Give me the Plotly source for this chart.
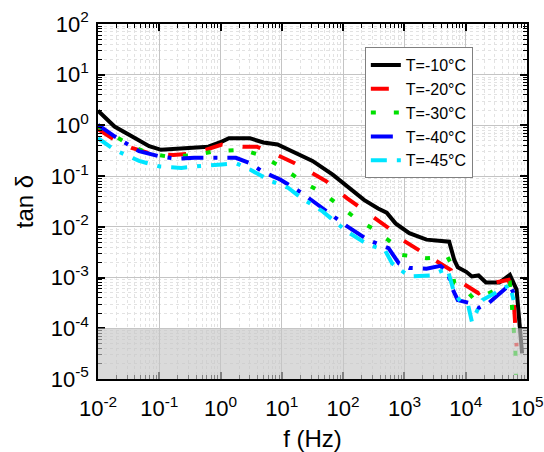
import plotly.graph_objects as go

# T = -10 °C
f_10 = [0.01, 0.0186, 0.0355, 0.0684, 0.107, 0.17, 0.324, 0.63, 1.05, 1.37, 3.0, 5.0, 8.5, 16.2, 31.6, 67.6, 115, 219, 372, 513, 716, 1200, 2290, 5370, 6530, 7410, 10200, 12600, 16200, 21400, 35500, 52500, 67600, 77600, 83200]
t_10 = [1.95, 0.95, 0.61, 0.39, 0.33, 0.34, 0.36, 0.38, 0.48, 0.56, 0.56, 0.46, 0.42, 0.285, 0.20, 0.107, 0.063, 0.034, 0.023, 0.019, 0.0117, 0.0075, 0.0056, 0.0051, 0.0022, 0.0016, 0.0013, 0.00105, 0.0011, 0.0008, 0.0008, 0.00113, 0.00058, 0.000108, 0.000032]

# T = -20 °C
f_20 = [0.01, 0.0186, 0.0355, 0.0684, 0.17, 0.372, 1.05, 2.29, 3.89, 8.5, 16.2, 52.5, 115, 251, 550, 912, 2290, 4370, 5750, 6530, 9550, 16200, 27500, 50100, 60300, 67600]
t_20 = [0.85, 0.52, 0.36, 0.285, 0.26, 0.28, 0.42, 0.38, 0.38, 0.26, 0.18, 0.08, 0.037, 0.019, 0.0095, 0.0056, 0.0028, 0.0018, 0.0014, 0.00098, 0.00072, 0.00049, 0.00078, 0.0009, 0.0004, 0.000044]

# T = -30 °C
f_30 = [0.01, 0.0145, 0.0355, 0.0684, 0.132, 0.372, 0.813, 2.29, 4.37, 9.55, 24.0, 46.8, 77.6, 170, 331, 631, 912, 2290, 5010, 5750, 6530, 9550, 14100, 24000, 52500, 56200, 60300, 64600, 66100]
t_30 = [0.95, 0.75, 0.39, 0.28, 0.245, 0.26, 0.31, 0.33, 0.26, 0.155, 0.072, 0.047, 0.029, 0.014, 0.0087, 0.0048, 0.0028, 0.0024, 0.0026, 0.0019, 0.00078, 0.00061, 0.00036, 0.00049, 0.00078, 0.00032, 0.000108, 0.000037, 0.000012]

# T = -40 °C
f_40 = [0.01, 0.0186, 0.0468, 0.102, 0.2, 0.372, 1.05, 1.78, 3.02, 5.01, 9.55, 20.9, 46.8, 115, 251, 550, 813, 1200, 2290, 3890, 5010, 6170, 7410, 11000, 16200, 24000, 52500, 60300]
t_40 = [1.03, 0.61, 0.31, 0.245, 0.22, 0.23, 0.23, 0.23, 0.18, 0.12, 0.085, 0.047, 0.023, 0.0103, 0.0056, 0.0038, 0.0019, 0.00155, 0.0015, 0.0017, 0.0013, 0.00058, 0.00036, 0.00032, 0.00025, 0.00032, 0.00072, 0.00049]

# T = -45 °C
f_45 = [0.01, 0.0186, 0.0468, 0.102, 0.229, 0.372, 1.05, 1.78, 3.02, 6.61, 12.6, 20.9, 46.8, 115, 251, 479, 631, 1200, 2630, 5010, 6530, 8510, 11000, 12600, 18600, 52500, 60300]
t_45 = [0.56, 0.33, 0.20, 0.155, 0.145, 0.155, 0.17, 0.18, 0.135, 0.08, 0.059, 0.037, 0.020, 0.0081, 0.0045, 0.0035, 0.0019, 0.00105, 0.0011, 0.0015, 0.00049, 0.00032, 0.00028, 0.000135, 0.00036, 0.00072, 0.00036]

names = ["T=-10°C", "T=-20°C", "T=-30°C", "T=-40°C", "T=-45°C"]
xs = [f_10, f_20, f_30, f_40, f_45]
ys = [t_10, t_20, t_30, t_40, t_45]
colors = ["#000000", "#ff0000", "#00e000", "#0000ff", "#00e5ff"]
dashes = ["solid", "18px,20px", "5px,18px", "22px,10px,4px,10px", "16px,10px,4px,10px"]

x_exps = [-2, -1, 0, 1, 2, 3, 4, 5]
y_exps = [-5, -4, -3, -2, -1, 0, 1, 2]
x_tickvals = [10.0 ** e for e in x_exps]
x_ticktext = ["10<sup>%d</sup>" % e for e in x_exps]
y_tickvals = [10.0 ** e for e in y_exps]
y_ticktext = ["10<sup>%d</sup>" % e for e in y_exps]
x_minor = [m * 10.0 ** e for e in x_exps[:-1] for m in range(2, 10)]
y_minor = [m * 10.0 ** e for e in y_exps[:-1] for m in range(2, 10)]

fig = go.Figure()
for x, y, n, c, d in zip(xs, ys, names, colors, dashes):
    fig.add_trace(go.Scatter(x=x, y=y, name=n, mode="lines",
                             line=dict(color=c, width=4, dash=d)))

# shaded region below 1e-4
fig.add_shape(type="rect", xref="paper", yref="y", x0=0, x1=1, y0=1e-5, y1=1e-4,
              fillcolor="rgb(198,198,198)", opacity=0.65, line=dict(width=0), layer="above")

FONT = "Liberation Sans, Arial, sans-serif"
axis_font = dict(family=FONT, size=22, color="black")


def common(minor_vals):
    return dict(type="log", tickmode="array", showline=True, linecolor="black",
                linewidth=1.5, mirror="ticks", ticks="inside", ticklen=7, tickwidth=1.5,
                tickcolor="black", showgrid=True, gridcolor="#c4c4c4", gridwidth=1,
                tickfont=axis_font, zeroline=False, automargin=False,
                minor=dict(tickmode="array", tickvals=minor_vals, ticks="inside", ticklen=4,
                           tickcolor="black", tickwidth=1,
                           showgrid=True, gridcolor="#e2e2e2", griddash="dot", gridwidth=1))


fig.update_xaxes(range=[-2, 5], tickvals=x_tickvals, ticktext=x_ticktext, ticklabelstandoff=9,
                 title=dict(text="f (Hz)", font=dict(family=FONT, size=24, color="black"), standoff=14),
                 **common(x_minor))
fig.update_yaxes(range=[-5, 2], tickvals=y_tickvals, ticktext=y_ticktext, ticklabelstandoff=3,
                 title=dict(text="tan δ", font=dict(family=FONT, size=24, color="black"), standoff=10),
                 **common(y_minor))

fig.update_layout(
    width=544, height=452,
    margin=dict(l=98, r=17, t=24, b=73, autoexpand=False),
    paper_bgcolor="white", plot_bgcolor="white",
    font=dict(family=FONT, color="black"),
    legend=dict(x=0.622, y=0.935, xanchor="left", yanchor="top",
                bgcolor="white", bordercolor="#808080", borderwidth=1,
                font=dict(size=16, color="black"), tracegroupgap=0,
                itemwidth=30),
)

fig.write_html("out.html")
